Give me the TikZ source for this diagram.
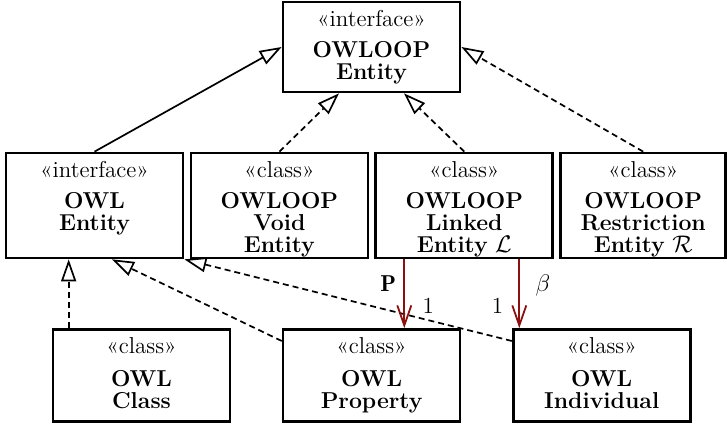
\documentclass[tikz,border=0pt,11pt]{standalone}
\usepackage{fontspec}
\usepackage{amsmath}
\usepackage{tikz}
\usetikzlibrary{arrows.meta, positioning, calc}
\definecolor{assocred}{RGB}{140,16,16}
\tikzstyle{umlbox} = [rectangle, draw=black, line width=1.35pt, minimum width=88.5pt, inner sep=0pt]
\tikzstyle{umltext} = [align=center, anchor=north, inner sep=0pt, yshift=-4.6pt, font=\fontsize{11.5}{11}\selectfont]
\tikzstyle{gen} = [line width=0.85pt, -{Triangle[open, length=11pt, width=7.5pt]}]
\tikzstyle{impl} = [gen, dash pattern=on 3pt off 2pt]
\tikzstyle{assoc} = [line width=0.9pt, draw=assocred, -{Straight Barb[length=10pt, width=7pt]}]

\begin{document}
\begin{tikzpicture}[x=0.5pt, y=-0.5pt, font=\fontsize{11.5}{13}\selectfont]
\useasboundingbox (0,0) rectangle (727,426);

% Root interface
\node (owloop) [umlbox, minimum height=45pt] at (371.5,47) {};
\node (owloop-txt) [umltext] at (owloop.north) {«interface»\\[4.5pt]\textbf{OWLOOP}\\\textbf{Entity}};

% Middle row
\node (owlent) [umlbox, minimum height=52.5pt] at (94.5,205.5) {};
\node (owlent-txt) [umltext] at (owlent.north) {«interface»\\[4.5pt]\textbf{OWL}\\\textbf{Entity}};

\node (void) [umlbox, minimum height=52.5pt, right=2.6pt of owlent] {};
\node (void-txt) [umltext] at (void.north) {«class»\\[4.5pt]\textbf{OWLOOP}\\\textbf{Void}\\\textbf{Entity}};

\node (linked) [umlbox, minimum height=52.5pt, right=2.6pt of void] {};
\node (linked-txt) [umltext] at (linked.north) {«class»\\[4.5pt]\textbf{OWLOOP}\\\textbf{Linked}\\\textbf{Entity} $\mathcal{L}$};

\node (restr) [umlbox, minimum height=52.5pt, minimum width=82.5pt, right=2.6pt of linked] {};
\node (restr-txt) [umltext] at (restr.north) {«class»\\[4.5pt]\textbf{OWLOOP}\\\textbf{Restriction}\\\textbf{Entity} $\mathcal{R}$};

% Bottom row
\node (owlclass) [umlbox, minimum height=46pt] at (141.5,375.5) {};
\node (owlclass-txt) [umltext] at (owlclass.north) {«class»\\[5.5pt]\textbf{OWL}\\\textbf{Class}};

\node (owlprop) [umlbox, minimum height=46pt, right=25.2pt of owlclass] {};
\node (owlprop-txt) [umltext] at (owlprop.north) {«class»\\[5.5pt]\textbf{OWL}\\\textbf{Property}};

\node (owlind) [umlbox, minimum height=46pt, right=25.2pt of owlprop] {};
\node (owlind-txt) [umltext] at (owlind.north) {«class»\\[5.5pt]\textbf{OWL}\\\textbf{Individual}};

% Towards OWLOOP Entity
\draw [gen] (owlent.north) -- (owloop.west);
\draw [impl] (void.north) -- (owloop.-125);
\draw [impl] (linked.north) -- (owloop.-55);
\draw [impl] (restr.north) -- (owloop.east);

% Towards OWL Entity
\coordinate (clsup) at ([xshift=8.5pt]owlclass.north west);
\draw [impl] (clsup) -- (clsup |- owlent.south);
\draw [impl] (owlprop.159) -- (owlent.-72);
\draw [impl] (owlind.159) -- (owlent.south east);

% Associations of the linked entity
\coordinate (pstart) at ([xshift=-30pt]linked.south);
\coordinate (bstart) at ([xshift=27.5pt]linked.south);
\draw [assoc] (pstart) -- (pstart |- owlprop.north)
  node (lbl-p) [pos=0.35, left] {$\mathbf{P}$}
  node (lbl-p1) [pos=0.68, right=5pt] {1};
\draw [assoc] (bstart) -- (bstart |- owlind.north)
  node (lbl-b) [pos=0.375, right=4pt] {$\beta$}
  node (lbl-b1) [pos=0.68, left=4pt] {1};

\end{tikzpicture}
\end{document}
